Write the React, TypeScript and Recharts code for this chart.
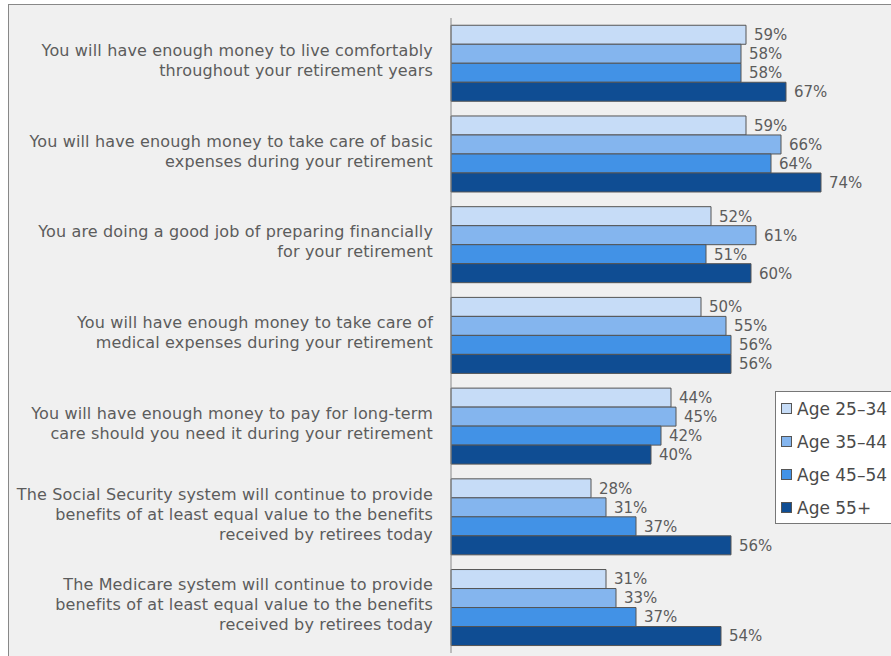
import { BarChart, Bar, XAxis, YAxis, LabelList } from 'recharts';

const categories = [
  'You will have enough money to live comfortably\nthroughout your retirement years',
  'You will have enough money to take care of basic\nexpenses during your retirement',
  'You are doing a good job of preparing financially\nfor your retirement',
  'You will have enough money to take care of\nmedical expenses during your retirement',
  'You will have enough money to pay for long-term\ncare should you need it during your retirement',
  'The Social Security system will continue to provide\nbenefits of at least equal value to the benefits\nreceived by retirees today',
  'The Medicare system will continue to provide\nbenefits of at least equal value to the benefits\nreceived by retirees today',
];

const seriesNames = ['Age 25\u201334', 'Age 35\u201344', 'Age 45\u201354', 'Age 55+'];
const seriesColors = ['#c6dcf7', '#84b5ee', '#4292e6', '#0f4d93'];

const age2534 = [59, 59, 52, 50, 44, 28, 31];
const age3544 = [58, 66, 61, 55, 45, 31, 33];
const age4554 = [58, 64, 51, 56, 42, 37, 37];
const age55 = [67, 74, 60, 56, 40, 56, 54];

const keys = ['s0', 's1', 's2', 's3'];

const data = categories.map((name, i) => ({
  name,
  s0: age2534[i],
  s1: age3544[i],
  s2: age4554[i],
  s3: age55[i],
}));

const FONT = '"DejaVu Sans", sans-serif';

const CategoryTick = (props: any) => {
  const { x, y, payload } = props;
  const lines: string[] = String(payload.value).split('\n');
  const lh = 20;
  const start = y - 3 - ((lines.length - 1) * lh) / 2;
  return (
    <text textAnchor="end" fill="#5c5c5c" fontSize={16} letterSpacing={0.15} fontFamily={FONT}>
      {lines.map((l, i) => (
        <tspan key={i} x={x} y={start + i * lh} dy="0.35em">
          {l}
        </tspan>
      ))}
    </text>
  );
};

// legend drawn outside the chart so it does not eat plot height
const LegendBox = () => (
  <div
    style={{
      position: 'absolute',
      left: 775,
      top: 391,
      width: 125,
      height: 133,
      background: '#fff',
      border: '1px solid #777',
      boxSizing: 'border-box',
      padding: '0 0 0 5px',
      fontFamily: FONT,
      fontSize: 17,
      color: '#4a4a4a',
    }}
  >
    {seriesNames.map((n, i) => (
      <div key={n} style={{ display: 'flex', alignItems: 'center', height: 33 }}>
        <span
          style={{
            display: 'inline-block',
            width: 11,
            height: 11,
            boxSizing: 'border-box',
            background: seriesColors[i],
            border: '1px solid #555',
            marginRight: 5,
          }}
        />
        <span>{n}</span>
      </div>
    ))}
  </div>
);

export default function App() {
  return (
    <div style={{ position: 'absolute', left: 0, top: 0, width: 891, height: 656, background: '#fff', overflow: 'hidden' }}>
      <div
        style={{
          position: 'absolute',
          left: 8,
          top: 4,
          width: 900,
          height: 700,
          background: '#f0f0f0',
          borderTop: '1px solid #888',
          borderLeft: '1px solid #888',
        }}
      />
      <div style={{ position: 'absolute', left: 0, top: 0 }}>
        <BarChart
          width={891}
          height={656}
          data={data}
          layout="vertical"
          margin={{ top: 18, right: 0, bottom: 3, left: 0 }}
          barCategoryGap="8%"
          barGap={0}
        >
          <XAxis type="number" domain={[0, 88]} hide />
          <YAxis
            type="category"
            dataKey="name"
            width={451}
            axisLine={{ stroke: '#888' }}
            tickLine={false}
            tickMargin={12}
            tick={<CategoryTick />}
            interval={0}
          />
          {keys.map((k, i) => (
            <Bar
              key={k}
              dataKey={k}
              name={seriesNames[i]}
              fill={seriesColors[i]}
              stroke="#555"
              strokeWidth={1}
              isAnimationActive={false}
            >
              <LabelList
                dataKey={k}
                position="right"
                offset={8}
                formatter={(v: any) => `${v}%`}
                fill="#5c5c5c"
                fontSize={15}
                fontFamily={FONT}
              />
            </Bar>
          ))}
        </BarChart>
      </div>
      <LegendBox />
    </div>
  );
}
